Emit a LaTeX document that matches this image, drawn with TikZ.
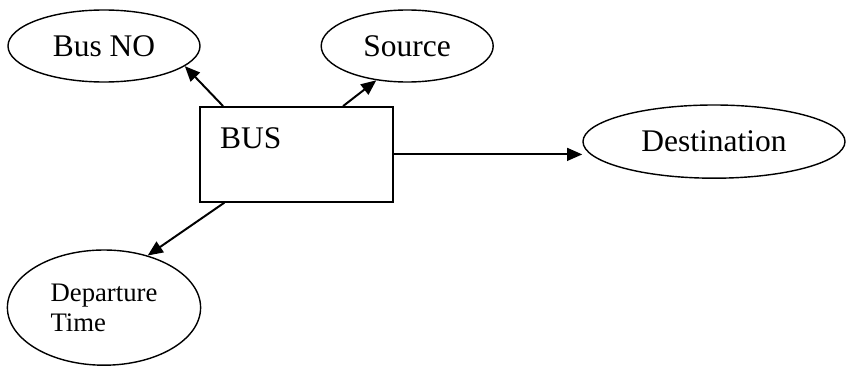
\documentclass[tikz,border=0pt]{standalone}
\usepackage{fontspec}
\setmainfont{Liberation Serif}
\usetikzlibrary{arrows.meta,positioning,shapes.geometric}

\begin{document}
\begin{tikzpicture}[
  entity/.style={draw, line width=1pt, rectangle, inner sep=0pt,
                 minimum width=4.83cm, minimum height=2.38cm},
  attr/.style={draw, line width=1pt, ellipse, inner sep=0pt,
               font=\fontsize{22.4}{27}\selectfont},
  arr/.style={-{Triangle[length=0.38cm,width=0.32cm]}, line width=1.4pt}
]
\useasboundingbox (0,0) rectangle (21.15,-9.15);

\node[entity] (bus) at (7.41,-3.86) {};
\node[font=\fontsize{22.4}{27}\selectfont, inner sep=0pt, anchor=north west]
  (buslbl) at ([xshift=0.52cm,yshift=-0.53cm]bus.north west) {BUS};

\node[attr, minimum width=4.8cm, minimum height=1.8cm] (busno) at (2.6,-1.15) {Bus NO};
\node[attr, minimum width=4.3cm, minimum height=1.8cm] (source) at (10.18,-1.15) {Source};
\node[attr, minimum width=6.55cm, minimum height=1.83cm] (dest) at (17.85,-3.54) {Destination};
\node[attr, minimum width=4.83cm, minimum height=2.88cm, align=left,
      font=\fontsize{19}{21.3}\selectfont] (depart) at (2.6,-7.69)
  {Departure\\Time};

\draw[arr] ([xshift=0.6cm]bus.north west) -- (busno.-14);
\draw[arr] ([xshift=3.6cm]bus.north west) -- (source.-132);
\draw[arr] (bus.east) -- (bus.east -| dest.west);
\draw[arr] ([xshift=0.63cm]bus.south west) -- (depart.50);

\end{tikzpicture}
\end{document}
